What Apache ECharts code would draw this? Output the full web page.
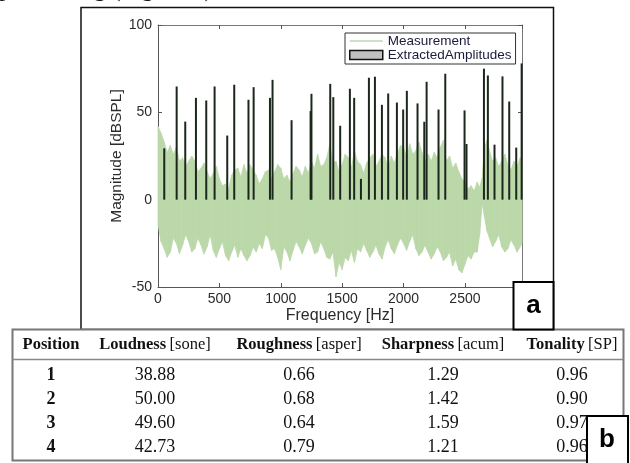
<!DOCTYPE html>
<html>
<head>
<meta charset="utf-8">
<script src="https://cdn.jsdelivr.net/npm/echarts@6/dist/echarts.min.js"></script>
<style>
html,body{margin:0;padding:0;background:#fff;}
#main{width:630px;height:463px;}
</style>
</head>
<body>
<div id="main"></div>
<script>
// ---- Data ----
const measFreq  = [0,25,50,75,100,125,150,175,200,225,
  250,275,300,325,350,375,400,425,450,475,
  500,525,550,575,600,625,650,675,700,725,
  750,775,800,825,850,875,900,925,950,975,
  1000,1025,1050,1075,1100,1125,1150,1175,1200,1225,
  1250,1275,1300,1325,1350,1375,1400,1425,1450,1475,
  1500,1525,1550,1575,1600,1625,1650,1675,1700,1725,
  1750,1775,1800,1825,1850,1875,1900,1925,1950,1975,
  2000,2025,2050,2075,2100,2125,2150,2175,2200,2225,
  2250,2275,2300,2325,2350,2375,2400,2425,2450,2475,
  2500,2525,2550,2575,2600,2620,2640,2660,2680,2700,
  2725,2750,2775,2800,2825,2850,2875,2900,2925,2950,2965];
const measUpper = [42,38,33,27,31,26,30,22,24,19,
  22,25,22,16,18,21,16,12,15,19,
  12,8,9,6,14,17,18,13,20,15,
  20,17,14,9,12,16,17,12,16,20,
  18,12,14,10,15,19,17,13,19,15,
  22,18,26,19,20,24,32,21,22,16,
  20,26,24,18,28,22,20,15,21,24,
  26,19,22,26,24,18,25,21,26,31,
  30,24,32,26,28,33,27,21,26,22,
  27,24,30,34,22,25,18,21,16,12,
  10,6,8,5,10,7,12,30,34,28,
  22,24,19,22,26,20,17,22,19,24,22];
const measLower = [-14,-24,-28,-33,-30,-22,-25,-31,-26,-20,
  -24,-30,-28,-22,-26,-31,-27,-20,-29,-33,
  -28,-24,-32,-35,-30,-26,-33,-28,-32,-35,
  -32,-27,-30,-25,-28,-20,-22,-29,-28,-33,
  -40,-27,-30,-35,-29,-24,-27,-31,-26,-22,
  -25,-31,-30,-24,-28,-33,-34,-30,-44,-36,
  -40,-33,-35,-29,-36,-28,-30,-25,-29,-33,
  -30,-26,-31,-34,-27,-23,-28,-31,-26,-22,
  -25,-29,-24,-20,-28,-32,-30,-26,-30,-34,
  -31,-27,-30,-35,-33,-30,-38,-34,-40,-42,
  -37,-32,-34,-30,-30,-20,-2,-10,-18,-22,
  -27,-24,-20,-27,-30,-28,-23,-26,-30,-27,-25];

const peakFreq = [51,152,222,309,393,461,564,621,737,779,912,933,1088,1243,1250,1403,1428,1484,1563,1598,1653,1718,1767,1824,1875,1946,1997,2027,2114,2169,2188,2285,2340,2497,2513,2655,2687,2741,2806,2861,2918,2962];
const peakAmp  = [29.4,64.8,44.7,58.3,56.8,64.8,36.7,65.8,57.2,64.4,58.3,68.6,45.5,50.7,60.6,66.3,58.7,42.3,63.5,58.3,11.9,69.8,70.4,54.3,60.8,55.6,51.6,62.3,55.1,44.6,67.5,51.6,72.1,51.1,31.9,75,71.1,31.5,70.6,56.2,29.8,78];

const xTicks = [0,500,1000,1500,2000,2500];
const yTicks = [-50,0,50,100];

const tableHeadBold = ['Position','Loudness','Roughness','Sharpness','Tonality'];
const tableHeadUnit = ['','[sone]','[asper]','[acum]','[SP]'];
const tablePosition = ['1','2','3','4'];
const tableLoudness = ['38.88','50.00','49.60','42.73'];
const tableRoughness = ['0.66','0.68','0.64','0.79'];
const tableSharpness = ['1.29','1.42','1.59','1.21'];
const tableTonality = ['0.96','0.90','0.97','0.96'];

// ---- Build chart ----
const chart = echarts.init(document.getElementById('main'), null, {renderer:'canvas'});
const GREEN = '#bbd8a9';
const BAR = '#1c271c';

const bandData = measFreq.map((f,i)=>[f, measUpper[i], measLower[i]]);
const peakData = peakFreq.map((f,i)=>[f, peakAmp[i]]);

const colX = [51,155,299,443,572];
const rowY = [375,399,423,447];
const cols = [tablePosition, tableLoudness, tableRoughness, tableSharpness, tableTonality];

const graphics = [];
// cut-off page text at top
graphics.push({type:'text', x:-1, y:-11, z:1, style:{text:'processing (Figure 7).', font:'25px "Liberation Serif"', fill:'#111', verticalAlign:'middle'}});
// frame around figure a
graphics.push({type:'rect', shape:{x:81,y:7.5,width:472.5,height:322}, style:{fill:'none', stroke:'#111', lineWidth:1.5}, z:1});
// table
graphics.push({type:'rect', shape:{x:12.5,y:329.5,width:611,height:131}, style:{fill:'#fff', stroke:'#777', lineWidth:2}, z:2});
graphics.push({type:'line', shape:{x1:12.5,y1:359.5,x2:623.5,y2:359.5}, style:{stroke:'#888', lineWidth:1.5}, z:3});
for (let c=0;c<5;c++){
  const txt = tableHeadUnit[c] ? '{b|'+tableHeadBold[c]+'} {r|'+tableHeadUnit[c]+'}' : '{b|'+tableHeadBold[c]+'}';
  graphics.push({type:'text', x:colX[c], y:345, z:4, style:{text:txt, align:'center', verticalAlign:'middle',
    rich:{b:{font:'bold 16.5px "Liberation Serif"', fill:'#111'}, r:{font:'16.5px "Liberation Serif"', fill:'#111'}}}});
  for (let r=0;r<4;r++){
    graphics.push({type:'text', x:colX[c], y:rowY[r], z:4, style:{text:cols[c][r], align:'center', verticalAlign:'middle',
      font:(c===0?'bold ':'')+'18px "Liberation Serif"', fill:'#111'}});
  }
}
// label boxes a and b
graphics.push({type:'rect', shape:{x:513.5,y:282,width:40,height:47.5}, style:{fill:'#fff', stroke:'#000', lineWidth:2}, z:5});
graphics.push({type:'text', x:533.5, y:306, z:6, style:{text:'a', align:'center', verticalAlign:'middle', font:'bold 26px "Liberation Sans"', fill:'#000'}});
graphics.push({type:'rect', shape:{x:587,y:416,width:41,height:48}, style:{fill:'#fff', stroke:'#000', lineWidth:2}, z:5});
graphics.push({type:'text', x:607, y:440, z:6, style:{text:'b', align:'center', verticalAlign:'middle', font:'bold 26px "Liberation Sans"', fill:'#000'}});

const axisFont = {fontFamily:'"Liberation Sans"', fontSize:14, color:'#2b2b2b'};
const option = {
  animation:false,
  backgroundColor:'#fff',
  grid:{left:158, top:25, width:364, height:262, show:false},
  legend:{
    left:345, top:33, orient:'vertical', itemWidth:33, itemHeight:9, itemGap:0,
    padding:[1,4,2,4], borderColor:'#333', borderWidth:1, backgroundColor:'#fff',
    textStyle:{fontFamily:'"Liberation Sans"', fontSize:13.5, color:'#1a1a3a', lineHeight:14},
    data:[
      {name:'Measurement', icon:'path://M0,0H100V3H0Z', itemStyle:{color:'#9cc58a'}},
      {name:'ExtractedAmplitudes', icon:'rect', itemStyle:{color:'#c0c0c0', borderColor:'#111', borderWidth:1.5}}
    ],
    selectedMode:false, z:10
  },
  xAxis:[
    {type:'value', min:0, max:2965, interval:500, position:'bottom',
     name:'Frequency [Hz]', nameLocation:'middle', nameGap:21, nameMoveOverlap:false,
     nameTextStyle:{fontFamily:'"Liberation Sans"', fontSize:16, color:'#2b2b2b'},
     axisLine:{show:true, onZero:false, lineStyle:{color:'#555', width:1}},
     axisTick:{show:true, inside:true, length:4, lineStyle:{color:'#555'}},
     axisLabel:Object.assign({margin:5, showMaxLabel:false, formatter:v=>xTicks.indexOf(v)>=0?String(v):''}, axisFont),
     splitLine:{show:false}},
    {type:'value', min:0, max:2965, interval:500, position:'top',
     axisLine:{show:true, onZero:false, lineStyle:{color:'#777', width:1}},
     axisTick:{show:true, inside:true, length:4, lineStyle:{color:'#555'}},
     axisLabel:{show:false}, splitLine:{show:false}}
  ],
  yAxis:[
    {type:'value', min:-50, max:100, interval:50, position:'left',
     name:'Magnitude [dBSPL]', nameLocation:'middle', nameGap:33, nameMoveOverlap:false,
     nameTextStyle:{fontFamily:'"Liberation Sans"', fontSize:15.5, color:'#2b2b2b'},
     axisLine:{show:true, onZero:false, lineStyle:{color:'#555', width:1}},
     axisTick:{show:true, inside:true, length:4, lineStyle:{color:'#555'}},
     axisLabel:Object.assign({margin:6, formatter:v=>yTicks.indexOf(v)>=0?String(v):''}, axisFont),
     splitLine:{show:false}},
    {type:'value', min:-50, max:100, interval:50, position:'right',
     axisLine:{show:true, onZero:false, lineStyle:{color:'#777', width:1}},
     axisTick:{show:true, inside:true, length:4, lineStyle:{color:'#555'}},
     axisLabel:{show:false}, splitLine:{show:false}}
  ],
  series:[
    {name:'Measurement', type:'custom', xAxisIndex:0, yAxisIndex:0, z:2,
     itemStyle:{color:GREEN},
     data:bandData,
     encode:{x:0, y:[1,2]},
     renderItem:function(params, api){
       const i = params.dataIndex;
       if (i >= bandData.length-1) return null;
       const p1 = api.coord([bandData[i][0], bandData[i][1]]);
       const p2 = api.coord([bandData[i+1][0], bandData[i+1][1]]);
       const p3 = api.coord([bandData[i+1][0], bandData[i+1][2]]);
       const p4 = api.coord([bandData[i][0], bandData[i][2]]);
       return {type:'polygon', shape:{points:[p1,p2,p3,p4]}, style:{fill:GREEN, stroke:GREEN, lineWidth:0.8}};
     }},
    {name:'ExtractedAmplitudes', type:'bar', xAxisIndex:0, yAxisIndex:0, z:3,
     barWidth:2, itemStyle:{color:BAR}, data:peakData}
  ],
  graphic:graphics
};
chart.setOption(option);
</script>
</body>
</html>
